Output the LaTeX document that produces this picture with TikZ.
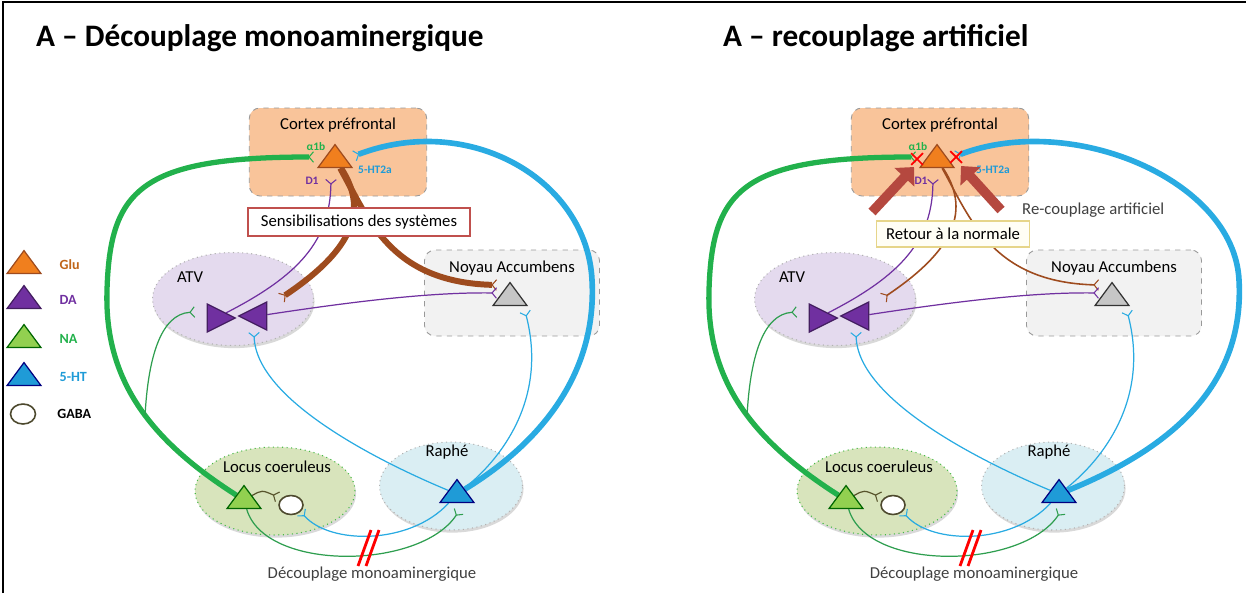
\documentclass[tikz,border=0pt]{standalone}
\usepackage{fontspec}
\setmainfont{Carlito}
\usetikzlibrary{shapes.geometric, shapes.misc, arrows.meta, positioning, shadows, backgrounds}

\definecolor{ctxfill}{HTML}{F9C49A}
\definecolor{glucol}{HTML}{F07F1E}
\definecolor{gluline}{HTML}{9E4B1E}
\definecolor{dacol}{HTML}{7030A0}
\definecolor{nacol}{HTML}{92D050}
\definecolor{naline}{HTML}{22B14C}
\definecolor{nathin}{HTML}{2E9E4F}
\definecolor{htcol}{HTML}{1F9BD7}
\definecolor{htline}{HTML}{29ABE2}
\definecolor{atvfill}{HTML}{E4DAEE}
\definecolor{lcfill}{HTML}{D8E4BC}
\definecolor{raphefill}{HTML}{DAEEF3}
\definecolor{nacfill}{HTML}{F2F2F2}
\definecolor{txtgray}{HTML}{404040}
\definecolor{sensred}{HTML}{C0504D}
\definecolor{retyellow}{HTML}{E6D58A}
\definecolor{recouple}{HTML}{B5483F}

\tikzset{
  region/.style={rectangle, rounded corners=6pt, draw=gray!80, dashed, line width=0.5pt, minimum width=3.55cm, minimum height=1.76cm},
  nucleus/.style={ellipse, draw=gray!60, dotted, line width=0.6pt, drop shadow={opacity=0.3, shadow xshift=0.6pt, shadow yshift=-1.5pt}},
  neuron/.style={isosceles triangle, isosceles triangle apex angle=72, isosceles triangle stretches, shape border rotate=90, inner sep=0pt, minimum width=0.68cm, minimum height=0.46cm, line width=0.7pt},
  syn/.style={-{Straight Barb[reversed, line width=0.6pt, length=2.5pt, width=6pt]}},
  proj/.style={line width=0.7pt},
  rcpt/.style={font=\fontsize{6.5}{7}\selectfont\bfseries},
  legtext/.style={right=0.36cm of #1, font=\fontsize{8}{9}\selectfont\bfseries}
}

\begin{document}
\begin{tikzpicture}[x=0.02cm, y=-0.02cm, font=\fontsize{9.5}{11}\selectfont]
  \useasboundingbox (0,0) rectangle (1246,593);
  \draw[line width=1.6pt] (3,593) -- (3,2) -- (1246,2);

  % titles
  \node[anchor=west, font=\fontsize{17.8}{20}\selectfont\bfseries] (titleL) at (30,38) {A – Découplage monoaminergique};
  \node[anchor=west, font=\fontsize{17.8}{20}\selectfont\bfseries] (titleR) at (717,38) {A – recouplage artificiel};

  % legend
  \node[neuron, fill=glucol, draw=gluline] (legglu) at (24,265) {};
  \node[neuron, fill=dacol, draw=dacol!60!black] (legda) at (24,300) {};
  \node[neuron, fill=nacol, draw=green!40!black] (legna) at (24,339) {};
  \node[neuron, fill=htcol, draw=blue!50!black] (leght) at (24,377) {};
  \node[ellipse, draw=olive!40!black, fill=white, line width=0.9pt, minimum width=0.5cm, minimum height=0.4cm, inner sep=0pt] (leggaba) at (23,414) {};
  \node[legtext=legglu, text=glucol!80!black] {Glu};
  \node[legtext=legda, text=dacol] {DA};
  \node[legtext=legna, text=naline] {NA};
  \node[legtext=leght, text=htcol] {5-HT};
  \node[legtext=leggaba, right=0.3cm of leggaba] {GABA};

  \foreach \p/\dx/\bw/\hx/\bx/\dlx in {L/0/3.4pt/375/0/312, R/602/0.9pt/391/45/319}{
  \begin{scope}[xshift=\dx*0.02cm]
    % neurons
    \node[neuron, fill=glucol, draw=gluline] (\p glu) at (335,159) {};
    \node[neuron, fill=dacol, draw=dacol!60!black, shape border rotate=-5, minimum width=0.56cm, minimum height=0.56cm] (\p da1) at (216,318) {};
    \node[neuron, fill=dacol, draw=dacol!60!black, shape border rotate=170, minimum width=0.56cm, minimum height=0.56cm] (\p da2) at (258,316) {};
    \node[neuron, fill=gray!45, draw=gray!40!black] (\p nac) at (510,297) {};
    \node[neuron, fill=nacol, draw=green!40!black] (\p na) at (244,500) {};
    \node[neuron, fill=htcol, draw=blue!50!black] (\p ht) at (457,494) {};
    \node[ellipse, draw=olive!40!black, fill=white, line width=0.9pt, minimum width=0.48cm, minimum height=0.38cm, inner sep=0pt] (\p gaba) at (291,505) {};

    % synapses
    \coordinate (\p a1b) at (314,157);
    \coordinate (\p ht2a) at (354,156);
    \coordinate (\p d1) at (331,179);
    \coordinate (\p atvglu) at (281,298);
    \coordinate (\p naglu) at (497,285);
    \coordinate (\p nada) at (497,293);
    \coordinate (\p atvna) at (195,312);
    \coordinate (\p atvht) at (254,332);
    \coordinate (\p naht) at (525,311);
    \coordinate (\p gabaht) at (301,512);
    \coordinate (\p rana) at (459,511);
    \coordinate (\p lcgaba) at (278,497);

    \begin{scope}[on background layer]
      \node[region, fill=ctxfill] (\p ctx) at (338,152) {};
      \node[region, fill=nacfill, minimum width=3.5cm, minimum height=1.72cm] (\p nacc) at (512,293) {};
      \node[nucleus, fill=atvfill, minimum width=3.22cm, minimum height=1.86cm] (\p atv) at (233,299) {};
      \node[nucleus, fill=lcfill, draw=green!45!gray, minimum width=3.2cm, minimum height=1.76cm] (\p lc) at (275,491) {};
      \node[nucleus, fill=raphefill, minimum width=2.86cm, minimum height=1.76cm] (\p raphe) at (451,486) {};

      % projections
      \draw[naline, line width=3pt, syn] (\p na) .. controls (150,440) and (104,380) .. coordinate[pos=0.45] (\p nabr) (107,290) .. controls (110,190) and (140,157) .. (\p a1b);
      \draw[htline, line width=3.2pt, syn] (\p ht) .. controls (545+\bx,440) and (597+\bx,370) .. (592+\bx,280) .. controls (587+\bx,180) and (470,112) .. (\p ht2a);
      \draw[gluline, line width=\bw, syn] (\p glu) .. controls (372,215) and (345,255) .. (\p atvglu);
      \draw[gluline, line width=\bw, syn] (\p glu) .. controls (368,218) and (390,282) .. (\p naglu);
      \draw[dacol, proj, syn] (\p da1) .. controls (300,275) and (330,240) .. (\p d1);
      \draw[dacol, proj, syn] (\p da2) .. controls (350,302) and (430,292) .. (\p nada);
      \draw[nathin, proj, syn] (\p nabr) .. controls (148,360) and (160,314) .. (\p atvna);
      \draw[nathin, proj, syn] (\p na) .. controls (265,572) and (420,570) .. (\p rana);
      \draw[olive!50!black, proj, syn] (\p na) .. controls (262,490) .. (\p lcgaba);
      \draw[htline, proj, syn] (\p ht) .. controls (380,462) and (256,400) .. (\p atvht);
      \draw[htline, proj, syn] (\p ht) .. controls (500,460) and (548,400) .. (\p naht);
      \draw[htline, proj, syn] (\p ht) .. controls (410,545) and (330,545) .. (\p gabaht);
    \end{scope}

    % labels
    \node[below=0.08cm of \p ctx.north] (\p ctxlbl) {Cortex préfrontal};
    \node[below=0.1cm of \p nacc.north] (\p nacclbl) {Noyau Accumbens};
    \node (\p atvlbl) at (190,277) {ATV};
    \node (\p lclbl) at (277,467) {Locus coeruleus};
    \node (\p raphelbl) at (447,452) {Raphé};
    \node[rcpt, text=naline] (\p a1blbl) at (316,147) {α1b};
    \node[rcpt, text=htcol] (\p ht2albl) at (\hx,170) {5-HT2a};
    \node[rcpt, text=dacol] (\p d1lbl) at (\dlx,181) {D1};

    % decoupling mark
    \draw[red, line width=1.6pt] (371,530) -- (358,566);
    \draw[red, line width=1.6pt] (379,530) -- (366,566);
    \node[text=txtgray] (\p declbl) at (372,574) {Découplage monoaminergique};
  \end{scope}
  }

  \node[draw=sensred, fill=white, line width=0.8pt, minimum width=4.44cm, minimum height=0.56cm] (sensib) at (359,222) {Sensibilisations des systèmes};
  \node[draw=retyellow, fill=yellow!4, line width=0.8pt, minimum width=3.06cm, minimum height=0.52cm] (retour) at (953,234) {Retour à la normale};

  % artificial recoupling
  \node[cross out, draw=red, line width=1pt, minimum size=0.2cm, inner sep=0pt] (xa1b) at (917,159) {};
  \node[cross out, draw=red, line width=1pt, minimum size=0.2cm, inner sep=0pt] (xht2a) at (956,157) {};
  \coordinate (pushL) at (872,212);
  \coordinate (pushR) at (1001,210);
  \coordinate (tipL) at (914,167);
  \coordinate (tipR) at (961,166);
  \draw[recouple, line width=5.5pt, -{Triangle[length=8pt, width=15pt]}] (pushL) -- (tipL);
  \draw[recouple, line width=5.5pt, -{Triangle[length=8pt, width=15pt]}] (pushR) -- (tipR);
  \node[right=0.3cm of pushR, text=txtgray] (recouplbl) {Re-couplage artificiel};
\end{tikzpicture}
\end{document}
